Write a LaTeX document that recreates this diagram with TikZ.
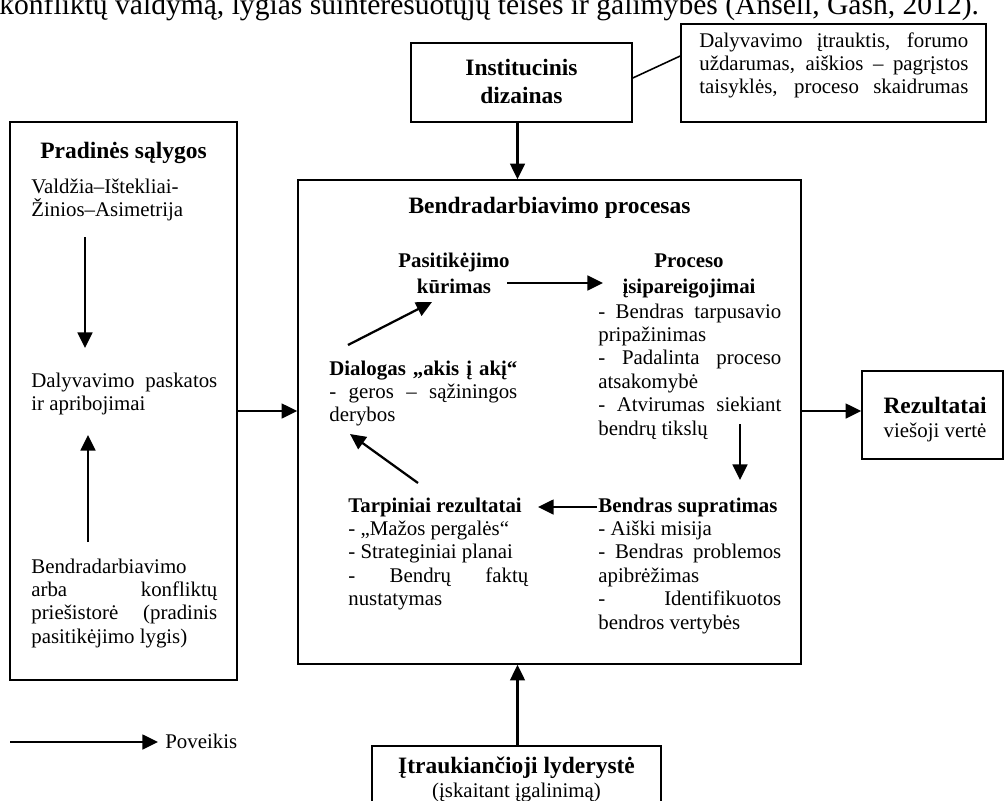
\documentclass[tikz,border=0pt]{standalone}
\usepackage{fontspec}
\setmainfont{Liberation Serif}
\usetikzlibrary{arrows.meta,fit,calc}
\newlength\pxu
\setlength\pxu{0.575pt}
\newcommand\txtfont{\fontsize{12}{13.5}\selectfont}
\newcommand\hdfont{\fontsize{13.5}{16}\selectfont\bfseries}
\newcommand\bdfont{\fontsize{12}{14.4}\selectfont\bfseries}
\tikzset{
  bx/.style={draw, line width=0.9pt, inner sep=0pt},
  txt/.style={anchor=base west, inner sep=0pt, font=\txtfont, align=justify},
  hd/.style={anchor=base, inner sep=0pt, font=\hdfont, align=center},
  bd/.style={anchor=base, inner sep=0pt, font=\bdfont, align=center},
  arr/.style={line width=1.3pt, -{Triangle[length=9pt,width=8.5pt]}},
  plain/.style={line width=0.9pt}
}
\begin{document}
\begin{tikzpicture}[x=\pxu, y=-\pxu]
\useasboundingbox (0,0) rectangle (1004,800);
\clip (0,0) rectangle (1004,800);
% cut-off line of the page text above the figure
\node[anchor=base west, inner sep=0pt, font=\fontsize{17}{19}\selectfont] (toptext) at (-1,14)
  {konfliktų valdymą, lygias suinteresuotųjų teises ir galimybes (Ansell, Gash, 2012).};

% boxes
\node[bx, fit={(10,122) (237,680)}] (left) {};
\node[bx, fit={(298,180) (801,664)}] (main) {};
\node[bx, fit={(411,43) (632,122)}] (inst) {};
\node[bx, fit={(681,24) (986,122)}] (tbox) {};
\node[bx, fit={(862,371) (1003,459)}] (rez) {};
\node[bx, fit={(372,746) (661,830)}] (lead) {};

% left box texts
\node[hd] (pradines) at (123.5,158) {Pradinės sąlygos};
\node[txt, text width=186\pxu] (valdzia) at (31,193) {Valdžia–Ištekliai-\\Žinios–Asimetrija};
\node[txt, text width=186\pxu] (paskatos) at (31,387) {Dalyvavimo paskatos\linebreak ir apribojimai};
\node[txt, text width=186\pxu] (priesist) at (31,573) {Bendradarbiavimo\linebreak arba konfliktų\linebreak priešistorė (pradinis\linebreak pasitikėjimo lygis)};

% institutional design (base = last line)
\node[hd] (insttxt) at (521.5,103) {Institucinis\\dizainas};
\node[txt, text width=269\pxu] (tboxtxt) at (699,47) {Dalyvavimo įtrauktis, forumo\linebreak uždarumas, aiškios – pagrįstos\linebreak taisyklės, proceso skaidrumas{\parfillskip=0pt\par}};

% main box texts
\node[hd] (proctitle) at (549.5,213) {Bendradarbiavimo procesas};
\node[bd] (pasit) at (454,293) {Pasitikėjimo\\kūrimas};
\node[bd] (procesoh) at (689,293) {Proceso\\įsipareigojimai};
\node[txt, text width=183\pxu] (procesot) at (598,318) {- Bendras tarpusavio\linebreak pripažinimas\\- Padalinta proceso\linebreak atsakomybė\\- Atvirumas siekiant\linebreak bendrų tikslų};
\node[txt, text width=188\pxu] (dialog) at (329,375) {\textbf{Dialogas „akis į akį“}\linebreak - geros – sąžiningos\linebreak derybos};
\node[txt, text width=180\pxu] (tarp) at (348,512) {\textbf{Tarpiniai rezultatai}\\- „Mažos pergalės“\\- Strateginiai planai\\- Bendrų faktų\linebreak nustatymas};
\node[txt, text width=183\pxu] (supr) at (598,512) {\textbf{Bendras supratimas}\\- Aiški misija\\- Bendras problemos\linebreak apibrėžimas\\- Identifikuotos\linebreak bendros vertybės};

% results (base = last line)
\node[anchor=base, inner sep=0pt, align=center, font=\txtfont] (reztxt) at (935,437) {{\hdfont Rezultatai}\\viešoji vertė};
% leadership (base = last line)
\node[anchor=base, inner sep=0pt, align=center, font=\txtfont] (leadtxt) at (516.5,797) {{\hdfont Įtraukiančioji lyderystė}\\(įskaitant įgalinimą)};

% legend
\coordinate (lg1) at (10,742);
\coordinate (lg2) at (158,742);
\draw[arr] (lg1) -- (lg2);
\node[anchor=base west, inner sep=0pt, font=\txtfont] (legtxt) at (165,748) {Poveikis};

% connector coordinates
\coordinate (ylr) at (0,411);
\coordinate (xinst) at (517.5,0);
\coordinate (c1) at (85,237);
\coordinate (c2) at (85,348);
\coordinate (c3) at (88,542);
\coordinate (c4) at (88,435);
\coordinate (d1) at (348,345);
\coordinate (d2) at (432,302);
\coordinate (p1) at (507,283);
\coordinate (p2) at (603,283);
\coordinate (q1) at (740,424);
\coordinate (q2) at (740,480);
\coordinate (s1) at (597,507);
\coordinate (s2) at (538,507);
\coordinate (t1) at (418,483);
\coordinate (t2) at (350,434);

% connectors
\draw[arr] (c1) -- (c2);
\draw[arr] (c3) -- (c4);
\draw[arr] (left.east |- ylr) -- (main.west |- ylr);
\draw[arr] (main.east |- ylr) -- (rez.west |- ylr);
\draw[arr] (inst.south -| xinst) -- (main.north -| xinst);
\draw[arr] (lead.north -| xinst) -- (main.south -| xinst);
\draw[plain] (inst.east |- 0,78) -- (tbox.west |- 0,56);
\draw[arr] (d1) -- (d2);
\draw[arr] (p1) -- (p2);
\draw[arr] (q1) -- (q2);
\draw[arr] (s1) -- (s2);
\draw[arr] (t1) -- (t2);
\end{tikzpicture}
\end{document}
